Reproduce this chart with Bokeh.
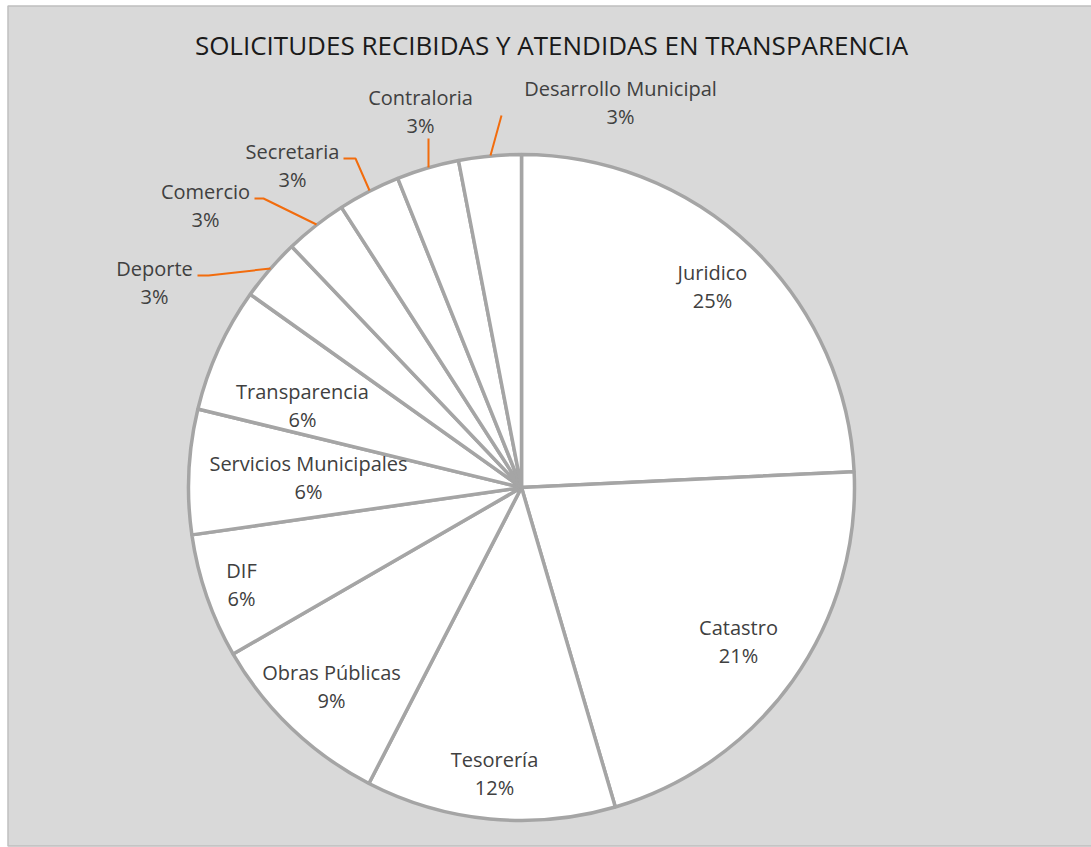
import math
from bokeh.plotting import figure
from bokeh.models import Range1d, ColumnDataSource
from bokeh.core.properties import value
from bokeh.embed import file_html
from bokeh.resources import INLINE

# ---- data ----
categories = ["Juridico", "Catastro", "Tesorería", "Obras Públicas", "DIF",
              "Servicios Municipales", "Transparencia", "Deporte", "Comercio",
              "Secretaria", "Contraloria", "Desarrollo Municipal"]
counts = [8, 7, 4, 3, 2, 2, 2, 1, 1, 1, 1, 1]
pct_labels = ["25%", "21%", "12%", "9%", "6%", "6%", "6%", "3%", "3%", "3%", "3%", "3%"]
title_text = "SOLICITUDES RECIBIDAS Y ATENDIDAS EN TRANSPARENCIA"

# ---- layout (pixel space, y measured from top) ----
W, H = 1091, 847
cx, cy, R = 521, 487, 333
label_pos = [(712, 272), (738, 627), (494, 759), (331, 672), (241, 570), (308, 463),
             (302, 391), (154, 268), (205, 191), (292, 151), (420, 97), (620, 88)]
leaders = {
    "Deporte": [(197, 275), (208, 275), (270, 268)],
    "Comercio": [(254, 198), (263, 198), (316, 224)],
    "Secretaria": [(343, 158), (355, 158), (369, 190)],
    "Contraloria": [(428, 138), (428, 167)],
    "Desarrollo Municipal": [(501, 115), (490, 155)],
}

def Y(py):
    return H - py

p = figure(width=W, height=H, output_backend="svg", toolbar_location=None,
           x_range=Range1d(0, W), y_range=Range1d(0, H), min_border=0)
p.axis.visible = False
p.grid.visible = False
p.outline_line_color = None
p.background_fill_color = "white"
p.border_fill_color = "white"

# chart area box
p.quad(left=[7.5], right=[1095], bottom=[Y(845.5)], top=[Y(5.5)],
       fill_color="#d9d9d9", line_color="#bfbfbf", line_width=1.5)

# wedges
total = sum(counts)
starts, ends = [], []
acc = 0
for c in counts:
    a0 = math.pi / 2 - 2 * math.pi * acc / total
    acc += c
    a1 = math.pi / 2 - 2 * math.pi * acc / total
    starts.append(a0)
    ends.append(a1)
src = ColumnDataSource(dict(cat=categories, val=counts, start=starts, end=ends))
p.wedge(x=cx, y=Y(cy), radius=R, start_angle="start", end_angle="end",
        direction="clock", source=src, fill_color="white",
        line_color="#a5a5a5", line_width=3.5)

# leader lines
for name, pts in leaders.items():
    p.line([q[0] for q in pts], [Y(q[1]) for q in pts], line_color="#f26c0d",
           line_width=2)

# labels
lx = [q[0] for q in label_pos]
ly1 = [Y(q[1]) for q in label_pos]
ly2 = [Y(q[1] + 28) for q in label_pos]
p.text(x=lx, y=ly1, text=categories, text_align="center", text_baseline="middle",
       text_font=value("Open Sans"), text_font_size="20px", text_color="#404040")
p.text(x=lx, y=ly2, text=pct_labels, text_align="center", text_baseline="middle",
       text_font=value("Open Sans"), text_font_size="20px", text_color="#404040")

# title
p.text(x=[551], y=[Y(44)], text=[title_text], text_align="center",
       text_baseline="middle", text_font=value("Open Sans"),
       text_font_size="26px", text_color="#1a1a1a")

open("out.html", "w").write(file_html(p, INLINE))
